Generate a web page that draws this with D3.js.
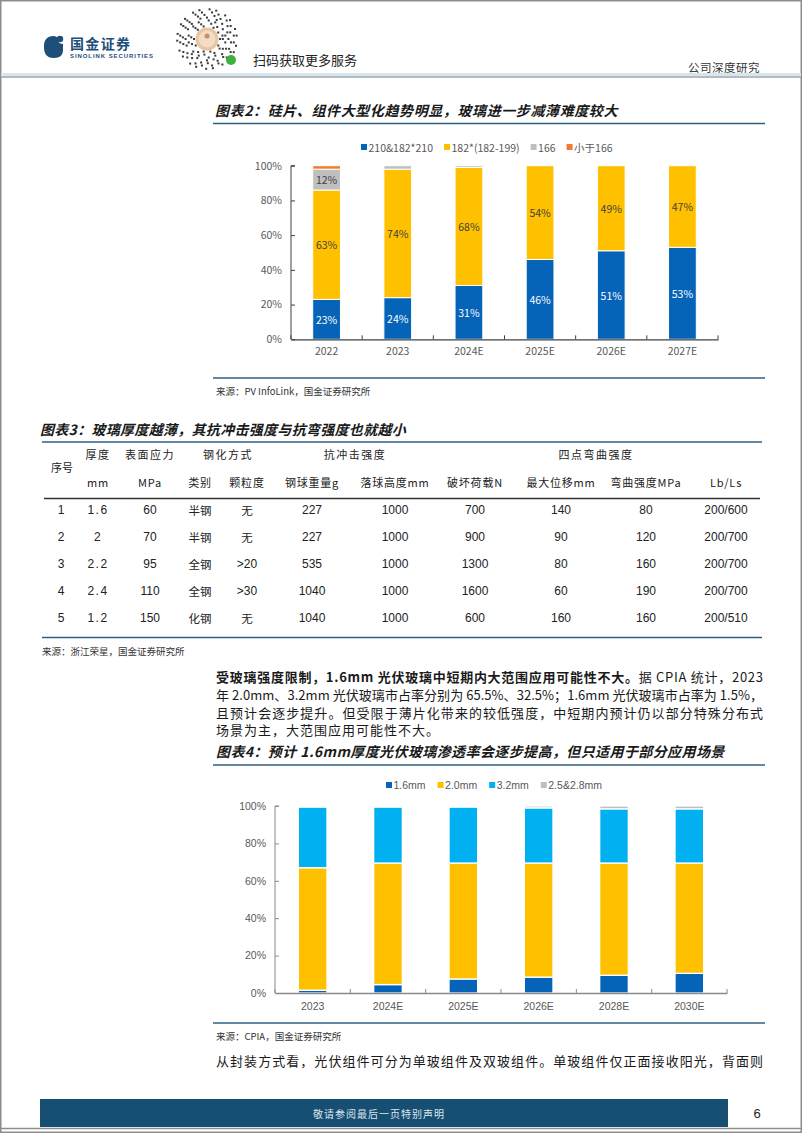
<!DOCTYPE html>
<html><head><meta charset="utf-8">
<script src="https://cdn.jsdelivr.net/npm/d3@7"></script>
<style>body{margin:0;background:#fff}svg{display:block}</style>
</head><body><svg id="page" width="802" height="1133"></svg>
<script>
// ---------- DATA ----------
const chart2Categories = ["2022","2023","2024E","2025E","2026E","2027E"];
const share210 = [23,24,31,46,51,53];
const share182 = [63,74,68,54,49,47];
const share166 = [12,2,1,0,0,0];
const shareBelow166 = [2,0,0,0,0,0];
const chart2Series = ["210&182*210","182*(182-199)","166","小于166"];

const chart4Categories = ["2023","2024E","2025E","2026E","2028E","2030E"];
const glass16 = [1.5,4.5,7.5,8.5,9.5,10.5];
const glass20 = [65.5,65,62,61,60,59];
const glass32 = [32.5,30,30,29.5,29,29];
const glass2528 = [0.5,0.5,0.5,1,1.5,1.5];
const chart4Series = ["1.6mm","2.0mm","3.2mm","2.5&2.8mm"];

const percentTicks = [0,20,40,60,80,100];

const tblNo = [1,2,3,4,5];
const tblThickness = ["1.6","2","2.2","2.4","1.2"];
const tblStress = ["60","70","95","110","150"];
const tblTemperType = ["半钢","半钢","全钢","全钢","化钢"];
const tblGrain = ["无","无",">20",">30","无"];
const tblBallWeight = ["227","227","535","1040","1040"];
const tblDropHeight = ["1000","1000","1000","1000","1000"];
const tblBreakLoad = ["700","900","1300","1600","600"];
const tblMaxDisp = ["140","90","80","60","160"];
const tblBendStrength = ["80","120","160","190","160"];
const tblSpan = ["200/600","200/700","200/700","200/700","200/510"];

// ---------- HELPERS ----------
const svg = d3.select("#page");
const CJK = "'Noto Sans CJK SC','Noto Sans',sans-serif";
const ARIAL = "'Liberation Sans',Arial,sans-serif";
const NARROW = "'Liberation Sans Narrow','Liberation Sans',sans-serif";

function txt(x,y,s,o={}){
  const t = svg.append("text").attr("x",x).attr("y",y).text(s)
    .attr("font-family",o.f||CJK).attr("font-size",o.s||12)
    .attr("fill",o.c||"#222").attr("dominant-baseline","central")
    .attr("text-anchor",o.a||"start");
  if(o.w) t.attr("font-weight",o.w);
  if(o.i) t.attr("font-style","italic");
  if(o.ls) t.attr("letter-spacing",o.ls);
  if(o.tl) t.attr("textLength",o.tl).attr("lengthAdjust","spacing");
  return t;
}
function hline(x1,x2,y,c,w){svg.append("line").attr("x1",x1).attr("x2",x2).attr("y1",y).attr("y2",y).attr("stroke",c).attr("stroke-width",w);}

// ---------- PAGE FRAME / HEADER ----------
svg.append("rect").attr("x",0.75).attr("y",0.75).attr("width",800.5).attr("height",1131.5)
  .attr("fill","none").attr("stroke","#8c8c8c").attr("stroke-width",1.5);
svg.append("rect").attr("x",1).attr("y",73).attr("width",800).attr("height",3).attr("fill","#d7e6ee");
hline(1,801,77,"#9aa4aa",1.5);

// logo
const logo = svg.append("g");
logo.append("path").attr("d","M54,36 C45,36 44,42 44,47 C44,53 46,58 54,58 C60,58 63,55 63,50 L63,44 C59,44 57,41 57,37 Z").attr("fill","#1d4f78");
logo.append("circle").attr("cx",60).attr("cy",39).attr("r",3.2).attr("fill","#1d4f78");
txt(70,43,"国金证券",{s:14,w:"bold",c:"#1d4f78",tl:60});
txt(70,56,"SINOLINK SECURITIES",{s:6,w:"bold",c:"#1d4f78",f:ARIAL,tl:83});

// wechat-style code
const qr = svg.append("g").attr("transform","translate(207,39)");
for(let r=13;r<=30;r+=2.8){
  const n=Math.round(2*Math.PI*r/3.4);
  for(let k=0;k<n;k++){
    if(((k*7+Math.round(r)*3)%5)>2){
      const a=2*Math.PI*k/n;
      qr.append("rect").attr("x",r*Math.cos(a)-1).attr("y",r*Math.sin(a)-1).attr("width",2).attr("height",2).attr("fill","#3a3a3a");
    }
  }
}
qr.append("circle").attr("r",11.5).attr("fill","#e8c4a2");
qr.append("circle").attr("r",8.5).attr("fill","#f3dcc5");
qr.append("circle").attr("cy",-3).attr("r",2.5).attr("fill","#c98f5d");
qr.append("circle").attr("cx",24).attr("cy",21).attr("r",5).attr("fill","#3fb03f");
txt(253,59,"扫码获取更多服务",{s:13,c:"#222"});
txt(760,67,"公司深度研究",{s:11.5,c:"#333",a:"end",ls:0.5});

// ---------- CHART helper ----------
function stackedChart(cfg){
  const keys = cfg.keys;
  const rows = cfg.cats.map((c,i)=>{const o={cat:c}; keys.forEach((k,j)=>o[k]=cfg.values[j][i]); return o;});
  const stack = d3.stack().keys(keys)(rows);
  const x = d3.scaleBand().domain(cfg.cats).range([cfg.x0,cfg.x1]).paddingInner(cfg.pad).paddingOuter(cfg.pad/2);
  const y = d3.scaleLinear().domain([0,100]).range([cfg.yB,cfg.yT]);
  const g = svg.append("g");
  stack.forEach((s,si)=>{
    g.selectAll(null).data(s.filter(d=>d[1]-d[0]>0)).enter().append("rect")
      .attr("x",d=>x(d.data.cat)).attr("width",x.bandwidth())
      .attr("y",d=>y(d[1])).attr("height",d=>y(d[0])-y(d[1]))
      .attr("fill",cfg.colors[si]).attr("stroke","#fff").attr("stroke-width",cfg.sw);
    if(cfg.labels){
      g.selectAll(null).data(s.filter(d=>d[1]-d[0]>=5)).enter().append("text")
        .attr("x",d=>x(d.data.cat)+x.bandwidth()/2).attr("y",d=>y((d[0]+d[1])/2))
        .attr("text-anchor","middle").attr("dominant-baseline","central")
        .attr("font-family",cfg.font).attr("font-size",cfg.fs)
        .attr("fill",si===0?"#fff":"#404040").text(d=>Math.round(d[1]-d[0])+"%");
    }
  });
  const ya = d3.axisLeft(y).tickValues(percentTicks).tickFormat(d=>d+"%").tickSize(-4).tickPadding(9);
  const yg = g.append("g").attr("transform",`translate(${cfg.x0},0)`).call(ya);
  yg.select(".domain").attr("stroke",cfg.axc).attr("d",`M4,${cfg.yT}H0V${cfg.yB}`);
  yg.selectAll(".tick line").attr("stroke",cfg.axc);
  yg.selectAll(".tick text").attr("font-family",cfg.font).attr("font-size",cfg.fs).attr("fill","#595959");
  const xa = d3.axisBottom(x).tickSize(0).tickPadding(cfg.xpad);
  const xg = g.append("g").attr("transform",`translate(0,${cfg.yB})`).call(xa);
  xg.select(".domain").attr("stroke",cfg.axc).attr("stroke-width",1.3);
  xg.selectAll(".tick text").attr("font-family",cfg.font).attr("font-size",cfg.fs).attr("fill","#595959");
  const step = x.step();
  d3.range(cfg.cats.length+1).forEach(i=>{
    const px = cfg.x0 + i*step;
    g.append("line").attr("x1",px).attr("x2",px).attr("y1",cfg.yB).attr("y2",cfg.yB-4).attr("stroke",cfg.axc);
  });
  let lx = cfg.lx;
  keys.forEach((k,i)=>{
    g.append("rect").attr("x",lx).attr("y",cfg.ly-3).attr("width",6).attr("height",6).attr("fill",cfg.colors[i]);
    const t = g.append("text").attr("x",lx+7.5).attr("y",cfg.ly).attr("dominant-baseline","central")
      .attr("font-family",cfg.font).attr("font-size",cfg.lfs).attr("fill","#595959").text(k);
    lx += 7.5 + t.node().getComputedTextLength() + cfg.lgap;
  });
}

// ---------- FIGURE 2 ----------
txt(215,110,"图表2：硅片、组件大型化趋势明显，玻璃进一步减薄难度较大",{s:14,w:"bold",i:true,c:"#1a1a1a",ls:0.6});
hline(213,765,123.5,"#2f5f80",1.5);
stackedChart({cats:chart2Categories,keys:chart2Series,values:[share210,share182,share166,shareBelow166],
  colors:["#0563b8","#ffc000","#bfbfbf","#ed7d31"],x0:291,x1:718,yT:165.7,yB:339.3,pad:0.61,sw:1,
  labels:true,font:CJK,fs:10.5,axc:"#404040",xpad:8,lx:361,ly:147,lfs:10.5,lgap:11});
hline(213,765,378,"#2f5f80",1.3);
txt(216,391,"来源：PV InfoLink，国金证券研究所",{s:9.5,c:"#333"});

// ---------- TABLE (figure 3) ----------
txt(40,429,"图表3：玻璃厚度越薄，其抗冲击强度与抗弯强度也就越小",{s:14,w:"bold",i:true,c:"#1a1a1a",ls:0.3});
hline(42,762,442,"#2f5f80",1.5);
const colX = [61,98,150,200,247,312,395,475,561,646,726];
const hdr = {s:11,c:"#222"};
txt(62,467,"序号",{...hdr,a:"middle"});
[["厚度",98],["表面应力",150],["钢化方式",228],["抗冲击强度",355],["四点弯曲强度",596]].forEach(h=>txt(h[1],454,h[0],{...hdr,a:"middle",ls:1.5}));
["mm","MPa","类别","颗粒度","钢球重量g","落球高度mm","破坏荷载N","最大位移mm","弯曲强度MPa","Lb/Ls"].forEach((h,i)=>
  txt(colX[i+1],482,h,{...hdr,a:"middle",ls:0.8}));
hline(44,760,498.5,"#333",1.6);
const yRow = d3.scalePoint().domain(tblNo).range([509.5,618]);
const tblCols = [tblNo,tblThickness,tblStress,tblTemperType,tblGrain,tblBallWeight,tblDropHeight,tblBreakLoad,tblMaxDisp,tblBendStrength,tblSpan];
tblCols.forEach((col,ci)=>{
  col.forEach((v,ri)=>{
    const isCjk = /[\u4e00-\u9fff]/.test(String(v));
    txt(colX[ci],yRow(tblNo[ri]),String(v),{s:isCjk?11.5:12,f:isCjk?CJK:NARROW,a:"middle",c:"#222",ls:(ci===1?1.5:0)});
  });
});
hline(42,762,637.5,"#2f5f80",1.5);
txt(42,651,"来源：浙江荣星，国金证券研究所",{s:9.5,c:"#333"});

// ---------- PARAGRAPH ----------
const p1 = svg.append("text").attr("x",216).attr("y",676).attr("dominant-baseline","central")
  .attr("font-family",CJK).attr("font-size",13).attr("fill","#1a1a1a")
  .attr("textLength",547).attr("lengthAdjust","spacing");
p1.append("tspan").attr("font-weight","bold").text("受玻璃强度限制，1.6mm 光伏玻璃中短期内大范围应用可能性不大。");
p1.append("tspan").text("据 CPIA 统计，2023");
txt(216,694,"年 2.0mm、3.2mm 光伏玻璃市占率分别为 65.5%、32.5%；1.6mm 光伏玻璃市占率为 1.5%，",{s:13,c:"#1a1a1a",tl:547});
txt(216,712,"且预计会逐步提升。但受限于薄片化带来的较低强度，中短期内预计仍以部分特殊分布式",{s:13,c:"#1a1a1a",tl:547});
txt(216,729.5,"场景为主，大范围应用可能性不大。",{s:13,c:"#1a1a1a",ls:1});

// ---------- FIGURE 4 ----------
txt(216,751,"图表4：预计 1.6mm厚度光伏玻璃渗透率会逐步提高，但只适用于部分应用场景",{s:14,w:"bold",i:true,c:"#1a1a1a",ls:0.4});
hline(213,765,765,"#2f5f80",1.5);
stackedChart({cats:chart4Categories,keys:chart4Series,values:[glass16,glass20,glass32,glass2528],
  colors:["#0563b8","#ffc000","#00b0f0","#bfbfbf"],x0:275,x1:727,yT:806,yB:993,pad:0.62,sw:1.3,
  labels:false,font:ARIAL,fs:10.5,axc:"#8a8a8a",xpad:10,lx:386,ly:785,lfs:10.5,lgap:12});
hline(213,765,1023,"#2f5f80",1.3);
txt(216,1036,"来源：CPIA，国金证券研究所",{s:9.5,c:"#333"});
txt(216,1060,"从封装方式看，光伏组件可分为单玻组件及双玻组件。单玻组件仅正面接收阳光，背面则",{s:13,c:"#1a1a1a",tl:547});

// ---------- FOOTER ----------
svg.append("rect").attr("x",40).attr("y",1099).attr("width",688).attr("height",28).attr("fill","#174f73");
txt(313,1113.5,"敬请参阅最后一页特别声明",{s:10,c:"#dce6ee",ls:1});
txt(757,1113.5,"6",{s:13,c:"#222",a:"middle",f:ARIAL});
hline(1,801,1128.5,"#8c8c8c",1.5);
</script></body></html>
